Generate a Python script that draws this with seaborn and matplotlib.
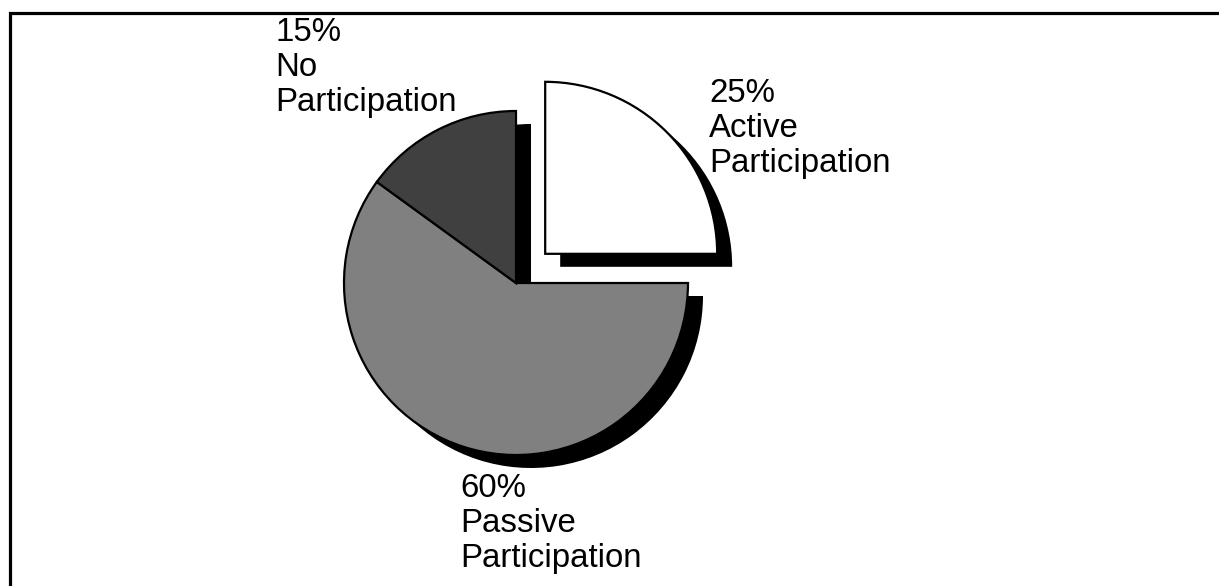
import matplotlib
matplotlib.use("Agg")
import matplotlib.pyplot as plt
import seaborn as sns
from matplotlib.patches import Rectangle

sns.set_theme(style="white")
plt.rcParams['font.family'] = ['Liberation Sans', 'DejaVu Sans']

# Data
categories = ["Active Participation", "Passive Participation", "No Participation"]
shares = [25, 60, 15]
pct_labels = ["25%", "60%", "15%"]
name_labels = ["Active\nParticipation", "Passive\nParticipation", "No\nParticipation"]
colors = ["#ffffff", "#808080", "#404040"]
explode = [0.24, 0, 0]

W, H = 1219, 586
fig = plt.figure(figsize=(W / 100, H / 100), dpi=100)
fig.patch.set_facecolor("white")

# axes covering the whole figure, 172 px per data unit, pie centre at px (516, 283)
R = 172.0
cx, cy = 516.0, 283.0
ax = fig.add_axes([0, 0, 1, 1])

# shadow pie (solid black, offset right/down)
sdx, sdy = 15 / R, -13 / R
ax.pie(shares, explode=explode, startangle=90, counterclock=False,
       colors=["black"] * len(shares), center=(sdx, sdy), radius=1.0,
       wedgeprops=dict(edgecolor="black", linewidth=0), frame=True)

# main pie
ax.pie(shares, explode=explode, startangle=90, counterclock=False,
       colors=colors, center=(0, 0), radius=1.0,
       wedgeprops=dict(edgecolor="black", linewidth=1.6, joinstyle="miter"),
       frame=True)
ax.set_aspect("auto")
ax.set_xlim(-cx / R, (W - cx) / R)
ax.set_ylim(-(H - cy) / R, cy / R)
ax.axis("off")

# labels (pixel positions of text top-left)
label_pos = {0: (709, 78), 1: (460, 473), 2: (275, 17)}
for i in range(len(shares)):
    px, py = label_pos[i]
    fig.text(px / W, 1 - py / H, pct_labels[i] + "\n" + name_labels[i],
             ha="left", va="top", fontsize=23.8, color="black", linespacing=1.17)

# frame around the chart (clipped at right and bottom)
fig.patches.append(Rectangle((9.5 / W, -0.2), 1.5, 1 - 12.5 / H + 0.2,
                             transform=fig.transFigure, fill=False,
                             edgecolor="black", linewidth=2.3, zorder=10))

fig.savefig("out.png", dpi=100, facecolor="white")
